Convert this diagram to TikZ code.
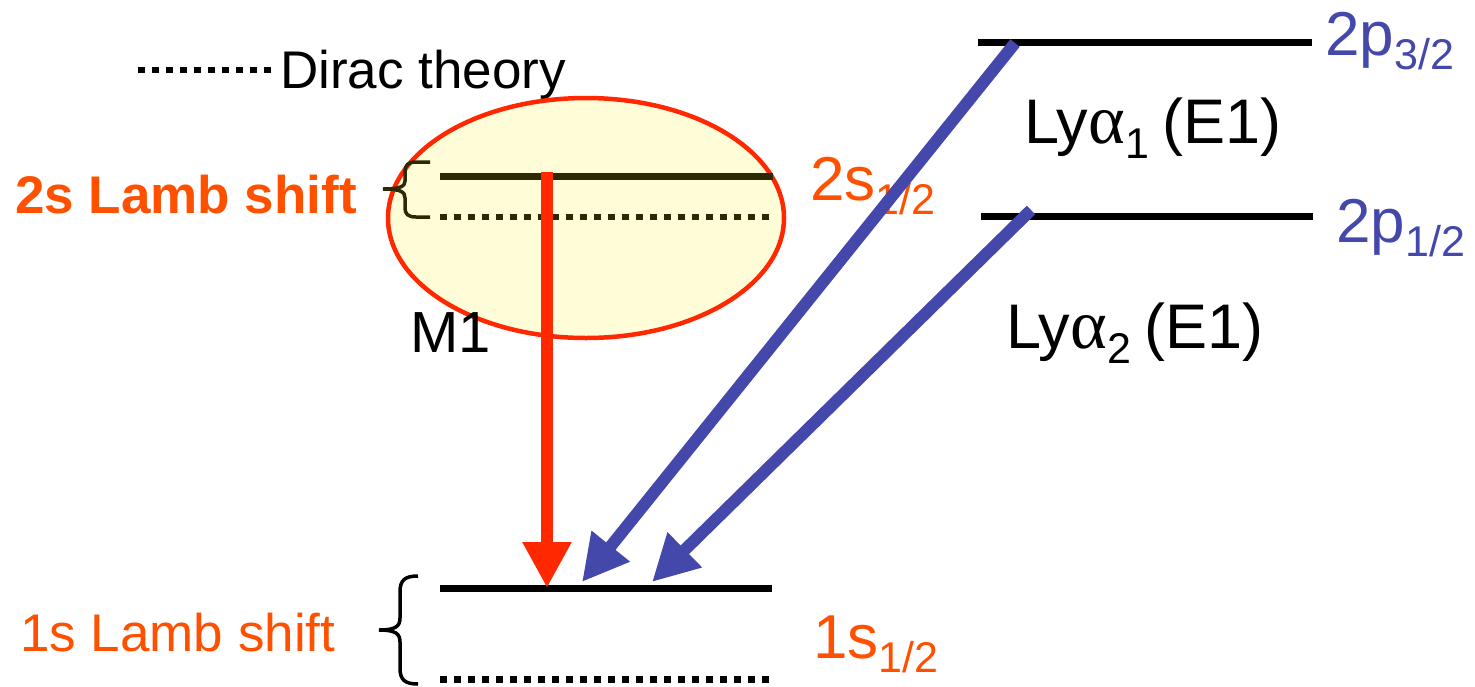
\documentclass[tikz,border=0pt]{standalone}
\usepackage{fontspec}
\setmainfont{Liberation Sans}
\newfontfamily\grkfont{Liberation Serif}
\usetikzlibrary{arrows.meta}
\definecolor{lambred}{RGB}{255,40,0}
\definecolor{lamborange}{RGB}{255,80,0}
\definecolor{lyblue}{RGB}{68,72,170}
\definecolor{mfill}{RGB}{255,252,216}
\definecolor{darkolive}{RGB}{45,40,5}
\newcommand{\lsub}[1]{\raisebox{-0.24em}{\fontsize{43}{43}\selectfont #1}}
\newcommand{\lya}[1]{Ly{\grkfont\fontsize{70}{70}\selectfont α}\lsub{#1}\hspace{-0.06em}}

\begin{document}
\begin{tikzpicture}[x=1pt, y=-1pt, >={Triangle[length=46pt,width=46pt]}]
    \tikzset{
        level/.style={line width=7pt},
        dirac/.style={line width=7pt, dash pattern=on 6.5pt off 7.5pt},
        lbl/.style={inner sep=0pt, anchor=base west},
        big/.style={font=\fontsize{62}{70}\selectfont},
        mid/.style={font=\fontsize{53}{60}\selectfont},
        midbold/.style={font=\fontsize{53}{60}\selectfont\bfseries},
        shiftbrace/.style={line width=3.5pt},
        trans/.style={line width=12pt}
    }
    \useasboundingbox (0,0) rectangle (1475,686);

    % legend
    \node[lbl, font=\fontsize{53}{60}\selectfont] (dirac) at (280,88) {Dirac theory};
    \coordinate (dl) at (138,70);
    \coordinate (dr) at (272,70);
    \draw[dirac, line width=6pt] (dl) -- (dr);

    % M1 region
    \draw[lambred, fill=mfill, line width=4.5pt] (586,218) ellipse [x radius=198pt, y radius=120pt];
    \node[lbl, font=\fontsize{58}{60}\selectfont] (m1) at (410,352) {M1};

    % n=2 s level
    \coordinate (s2a) at (440,176);
    \coordinate (s2b) at (773,176);
    \draw[level, darkolive] (s2a) -- (s2b);
    \draw[dirac, darkolive, line width=6pt] (440,217) -- (773,217);
    \draw[shiftbrace, darkolive] (430,162) -- (416,162) .. controls (408,162) and (405,165) .. (405,172)
        -- (405,181) .. controls (405,186) and (401,189) .. (383,189)
        .. controls (401,189) and (405,192) .. (405,198)
        -- (405,208) .. controls (405,214) and (408,217) .. (416,217) -- (430,217);
    \node[lbl, midbold, lamborange] (lamb2s) at (15,213) {2s Lamb shift};
    \node[lbl, big, lamborange] (s2lab) at (810,200) {2s\lsub{1/2}};

    % n=1 s level
    \coordinate (s1a) at (440,588);
    \coordinate (s1b) at (772,588);
    \draw[level] (s1a) -- (s1b);
    \draw[dirac] (440,679) -- (772,679);
    \draw[shiftbrace] (418,576) .. controls (405,576) and (400,580) .. (400,592)
        -- (400,618) .. controls (400,626) and (396,630) .. (379,630)
        .. controls (396,630) and (400,634) .. (400,642)
        -- (400,668) .. controls (400,680) and (405,684) .. (418,684);
    \node[lbl, mid, lamborange] (lamb1s) at (20,651) {1s Lamb shift};
    \node[lbl, big, lamborange] (s1lab) at (813,658) {1s\lsub{1/2}};

    % n=2 p levels
    \coordinate (p32a) at (978,42);
    \coordinate (p32b) at (1312,42);
    \coordinate (p12a) at (981,216);
    \coordinate (p12b) at (1313,216);
    \draw[level] (p32a) -- (p32b);
    \draw[level] (p12a) -- (p12b);
    \node[lbl, big, lyblue] (p32lab) at (1325,55) {2p\lsub{3/2}};
    \node[lbl, big, lyblue] (p12lab) at (1336,242) {2p\lsub{1/2}};
    \node[lbl, font=\fontsize{63}{70}\selectfont] (ly1) at (1024,143) {\lya{1} (E1)};
    \node[lbl, font=\fontsize{63}{70}\selectfont] (ly2) at (1006,348) {\lya{2} (E1)};

    % transitions
    \coordinate (m1top) at (547,172);
    \coordinate (m1end) at (547,588);
    \coordinate (ly1top) at (1015,43);
    \coordinate (ly1end) at (582,582);
    \coordinate (ly2top) at (1031,210);
    \coordinate (ly2end) at (652,582);
    \draw[->, trans, lambred] (m1top) -- (m1end);
    \draw[->, trans, lyblue] (ly1top) -- (ly1end);
    \draw[->, trans, lyblue] (ly2top) -- (ly2end);
\end{tikzpicture}
\end{document}
